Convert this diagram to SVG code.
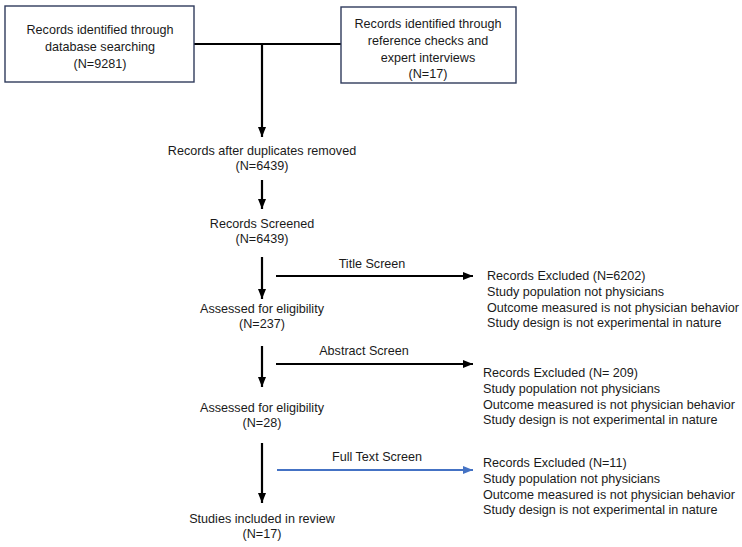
<svg xmlns="http://www.w3.org/2000/svg" width="742" height="547" viewBox="0 0 742 547">
<defs>
<style>
text{font-family:"Liberation Sans",Arial,sans-serif;font-size:12.6px;fill:#1a1a1a}
.c{text-anchor:middle}
.box{fill:#fff;stroke:#2f3b5c;stroke-width:1.4}
.ln{stroke:#000;stroke-width:2.2;fill:none}
.bl{stroke:#4472c4;stroke-width:2;fill:none}
</style>
<marker id="ah" markerUnits="userSpaceOnUse" markerWidth="12" markerHeight="10" refX="10" refY="4" orient="auto"><path d="M0,0 L10,4 L0,8 Z" fill="#000"/></marker>
<marker id="ahb" markerUnits="userSpaceOnUse" markerWidth="12" markerHeight="10" refX="10" refY="4" orient="auto"><path d="M0,0 L10,4 L0,8 Z" fill="#4472c4"/></marker>
</defs>
<rect width="742" height="547" fill="#fff"/>
<g id="connectors">
<path class="ln" d="M194,44 H341"/>
<path class="ln" d="M262,44 V137" marker-end="url(#ah)"/>
<path class="ln" d="M262,180 V209" marker-end="url(#ah)"/>
<path class="ln" d="M262,257 V299" marker-end="url(#ah)"/>
<path class="ln" d="M276,276 H473" marker-end="url(#ah)"/>
<path class="ln" d="M262,346 V387" marker-end="url(#ah)"/>
<path class="ln" d="M276,364 H473" marker-end="url(#ah)"/>
<path class="ln" d="M262,443 V503" marker-end="url(#ah)"/>
<path class="bl" d="M277,470 H473" marker-end="url(#ahb)"/>
<text class="c" x="372" y="268">Title Screen</text>
<text class="c" x="364" y="355">Abstract Screen</text>
<text class="c" x="377" y="461">Full Text Screen</text>
</g>
<g id="n1">
<rect class="box" x="5" y="6" width="189" height="76"/>
<text class="c" x="100" y="34">Records identified through</text>
<text class="c" x="100" y="51">database searching</text>
<text class="c" x="100" y="68">(N=9281)</text>
</g>
<g id="n2">
<rect class="box" x="341" y="7" width="175" height="76"/>
<text class="c" x="428" y="28">Records identified through</text>
<text class="c" x="428" y="45">reference checks and</text>
<text class="c" x="428" y="62">expert interviews</text>
<text class="c" x="428" y="78">(N=17)</text>
</g>
<g id="n3">
<text class="c" x="262" y="155">Records after duplicates removed</text>
<text class="c" x="262" y="170">(N=6439)</text>
</g>
<g id="n4">
<text class="c" x="262" y="228">Records Screened</text>
<text class="c" x="262" y="243">(N=6439)</text>
</g>
<g id="n5">
<text class="c" x="262" y="313">Assessed for eligibility</text>
<text class="c" x="262" y="328">(N=237)</text>
</g>
<g id="n6">
<text x="487" y="280">Records Excluded (N=6202)</text>
<text x="487" y="296">Study population not physicians</text>
<text x="487" y="312">Outcome measured is not physician behavior</text>
<text x="487" y="327">Study design is not experimental in nature</text>
</g>
<g id="n7">
<text class="c" x="262" y="412">Assessed for eligibility</text>
<text class="c" x="262" y="427">(N=28)</text>
</g>
<g id="n8">
<text x="483" y="377">Records Excluded (N= 209)</text>
<text x="483" y="393">Study population not physicians</text>
<text x="483" y="409">Outcome measured is not physician behavior</text>
<text x="483" y="424">Study design is not experimental in nature</text>
</g>
<g id="n9">
<text class="c" x="262" y="523">Studies included in review</text>
<text class="c" x="262" y="538">(N=17)</text>
</g>
<g id="n10">
<text x="483" y="467">Records Excluded (N=11)</text>
<text x="483" y="483">Study population not physicians</text>
<text x="483" y="499">Outcome measured is not physician behavior</text>
<text x="483" y="514">Study design is not experimental in nature</text>
</g>
</svg>
